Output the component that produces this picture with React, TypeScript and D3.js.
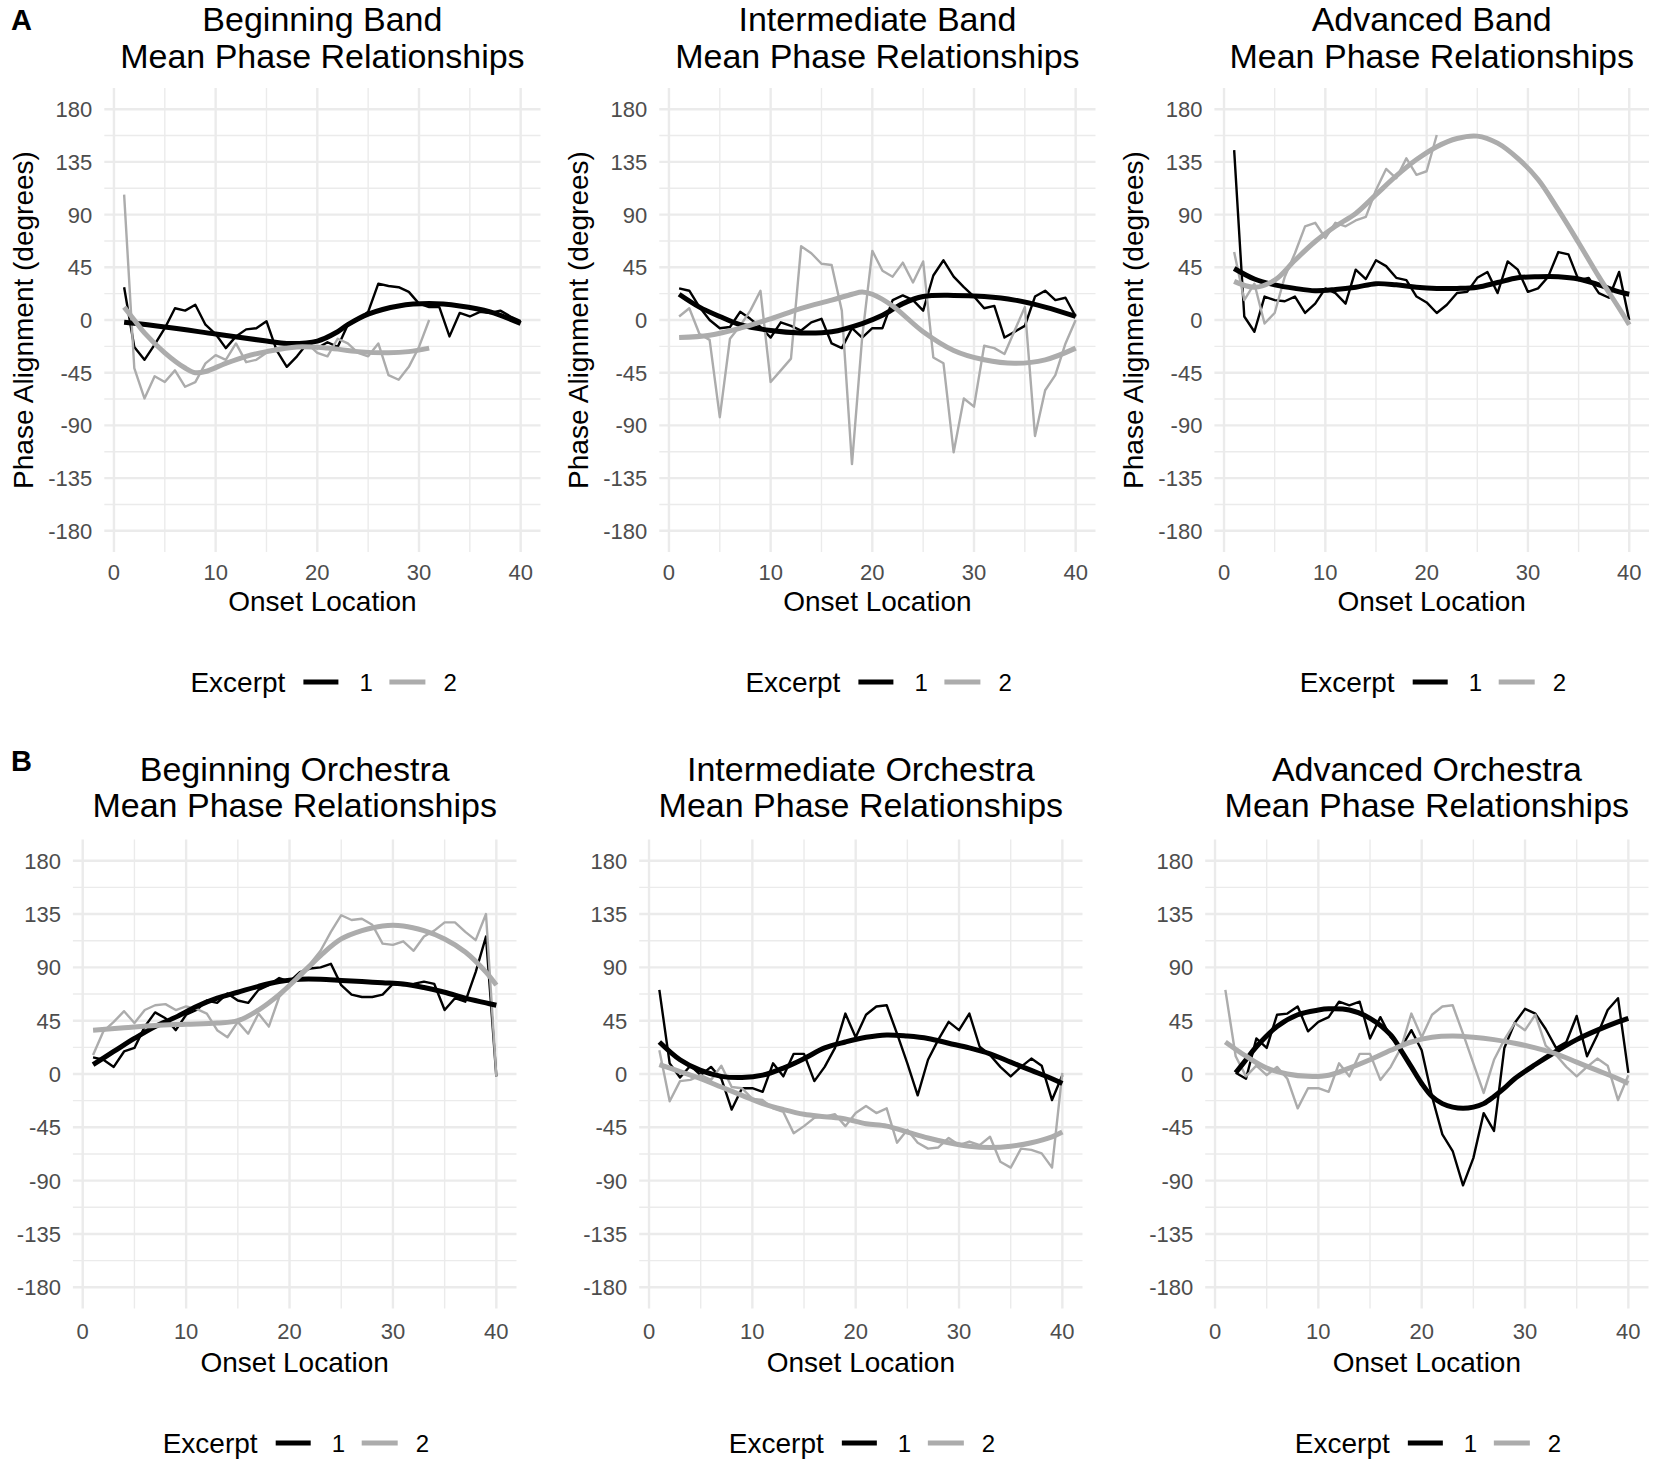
import React from 'react';
import * as d3 from 'd3';

// axis breaks
const onsetMajor = [0, 10, 20, 30, 40];
const onsetMinor = [5, 15, 25, 35];
const phaseMajor = [180, 135, 90, 45, 0, -45, -90, -135, -180];
const phaseMinor = [157.5, 112.5, 67.5, 22.5, -22.5, -67.5, -112.5, -157.5];

// raw mean phase per onset (onset = index + 1), fits are [onset, degrees]
const begBandEx1 = [28, -23, -34, -21, -7, 10, 8, 13, -4, -12, -24, -14, -8, -7, -1, -26, -40, -31, -20, -24, -19, -23, -4, 0, 7, 31, 29, 28, 24, 14, 11, 11, -14, 6, 3, 7, 6, 8, 3, -1];
const begBandEx2 = [107, -41, -67, -48, -53, -43, -57, -53, -37, -30, -34, -20, -36, -34, -28, -24, -23, -21, -20, -28, -31, -16, -20, -28, -31, -20, -47, -51, -40, -23, 0];
const begBandFit1: [number, number][] = [[1, -2], [5, -6], [10, -12], [15, -18], [17, -20], [20, -18], [22, -10], [23, -4], [25, 5], [28, 12], [31, 14], [34, 12], [37, 7], [40, -3]];
const begBandFit2: [number, number][] = [[1, 11], [2, 0], [3, -11], [5, -28], [7, -41], [8, -45], [9, -44], [11, -37], [13, -31], [15, -27], [18, -23], [21, -24], [24, -27], [27, -28], [29, -27], [31, -24]];

const intBandEx1 = [27, 25, 11, 0, -7, -6, 7, 1, -6, -15, -2, -5, -9, -2, 1, -20, -24, -7, -15, -7, -7, 17, 21, 17, 8, 38, 51, 37, 28, 20, 10, 12, -15, -10, -5, 20, 25, 17, 19, 3];
const intBandEx2 = [3, 10, -12, -17, -83, -16, -5, 8, 25, -53, -43, -33, 63, 57, 48, 47, 8, -123, -15, 59, 42, 37, 49, 32, 50, -32, -37, -113, -67, -74, -22, -24, -29, -9, 11, -99, -60, -47, -20, 0];
const intBandFit1: [number, number][] = [[1, 22], [3, 11], [5, 3], [7, -4], [10, -9], [13, -11], [16, -10], [19, -3], [21, 4], [23, 14], [25, 20], [28, 21], [31, 20], [34, 17], [37, 11], [40, 3]];
const intBandFit2: [number, number][] = [[1, -15], [4, -13], [7, -7], [10, 1], [13, 10], [16, 17], [18, 22], [19, 24], [20, 22], [22, 12], [25, -10], [28, -26], [31, -34], [34, -37], [37, -34], [40, -24]];

const advBandEx1 = [145, 3, -10, 20, 17, 16, 20, 6, 14, 27, 23, 14, 43, 35, 51, 46, 36, 34, 20, 15, 6, 13, 23, 24, 36, 41, 23, 50, 43, 24, 27, 37, 58, 56, 34, 36, 23, 19, 41, 0];
const advBandEx2 = [58, 17, 31, -3, 6, 37, 57, 80, 83, 70, 83, 80, 85, 88, 111, 129, 121, 138, 124, 127, 158];
const advBandFit1: [number, number][] = [[1, 44], [3, 35], [5, 30], [7, 27], [9, 25], [11, 26], [13, 28], [15, 31], [17, 30], [19, 28], [21, 27], [23, 27], [25, 28], [27, 32], [29, 36], [31, 37], [33, 37], [35, 35], [37, 30], [39, 24], [40, 22]];
const advBandFit2: [number, number][] = [[1, 33], [3, 28], [5, 34], [7, 51], [9, 67], [11, 80], [13, 91], [15, 107], [17, 123], [19, 137], [21, 148], [23, 155], [25, 157], [27, 151], [29, 138], [31, 120], [33, 94], [35, 66], [37, 37], [39, 10], [40, -4]];

const begOrchEx1 = [14, 12, 6, 19, 22, 40, 52, 47, 37, 50, 54, 62, 60, 68, 62, 60, 71, 75, 81, 78, 86, 89, 90, 93, 75, 67, 65, 65, 67, 76, 75, 76, 78, 76, 54, 64, 61, 86, 116, -2];
const begOrchEx2 = [16, 36, 44, 53, 43, 54, 58, 59, 54, 57, 55, 51, 37, 31, 44, 34, 51, 40, 65, 74, 85, 93, 104, 120, 134, 130, 131, 126, 110, 109, 112, 104, 116, 121, 128, 128, 120, 113, 135, -2];
const begOrchFit1: [number, number][] = [[1, 8], [3, 19], [5, 30], [7, 40], [9, 48], [11, 57], [13, 64], [15, 69], [17, 74], [19, 78], [21, 80], [23, 80], [25, 79], [27, 78], [29, 77], [31, 76], [33, 73], [35, 69], [37, 64], [39, 60], [40, 58]];
const begOrchFit2: [number, number][] = [[1, 37], [4, 39], [7, 41], [10, 42], [13, 43], [15, 45], [17, 54], [19, 67], [21, 83], [23, 100], [25, 114], [27, 121], [29, 125], [31, 125], [33, 121], [35, 114], [37, 103], [39, 86], [40, 75]];

const intOrchEx1 = [71, 9, -3, 7, -1, 6, -4, -30, -12, -12, -15, 9, -2, 17, 17, -6, 6, 22, 51, 31, 50, 57, 58, 34, 9, -18, 12, 29, 44, 37, 51, 23, 16, 6, -2, 6, 13, 7, -22, -1];
const intOrchEx2 = [20, -23, -6, -5, -1, -5, 7, -11, -12, -21, -22, -29, -32, -50, -44, -37, -36, -34, -44, -33, -27, -33, -29, -58, -47, -58, -63, -62, -54, -60, -57, -60, -53, -74, -79, -63, -64, -67, -79, 1];
const intOrchFit1: [number, number][] = [[1, 27], [3, 12], [5, 3], [7, -2], [9, -3], [11, -1], [13, 5], [15, 13], [17, 22], [19, 27], [21, 31], [23, 33], [25, 32], [27, 30], [29, 26], [31, 22], [33, 17], [35, 10], [37, 3], [39, -4], [40, -8]];
const intOrchFit2: [number, number][] = [[1, 8], [3, 2], [5, -4], [7, -11], [9, -18], [11, -25], [13, -30], [15, -34], [17, -36], [19, -38], [21, -42], [23, -44], [25, -49], [27, -54], [29, -58], [31, -61], [33, -62], [35, -61], [37, -58], [39, -53], [40, -49]];

const advOrchEx1 = [null, 1, -4, 30, 22, 50, 51, 57, 36, 44, 48, 61, 58, 61, 30, 48, 31, 22, 37, 20, -19, -51, -65, -94, -71, -33, -48, 22, 43, 55, 51, 38, 22, 27, 49, 15, 33, 54, 64, 1];
const advOrchEx2 = [71, 15, -2, 7, -1, 6, -4, -29, -12, -12, -15, 9, -2, 17, 17, -5, 6, 22, 51, 31, 50, 57, 58, 34, 9, -16, 12, 29, 43, 37, 50, 24, 16, 6, -2, 6, 13, 7, -22, -1];
const advOrchFit1: [number, number][] = [[2, 1], [3, 12], [4, 23], [6, 40], [8, 50], [10, 54], [11, 55], [13, 54], [15, 47], [17, 33], [18, 20], [19, 6], [20, -8], [21, -19], [22, -25], [23, -28], [24, -29], [25, -28], [26, -25], [27, -19], [28, -12], [29, -4], [31, 8], [33, 19], [35, 29], [37, 37], [39, 44], [40, 47]];
const advOrchFit2: [number, number][] = [[1, 27], [3, 15], [5, 5], [7, 0], [9, -2], [11, -1], [13, 5], [15, 12], [17, 20], [19, 27], [21, 31], [23, 32], [25, 31], [27, 29], [29, 26], [31, 22], [33, 17], [35, 10], [37, 3], [39, -4], [40, -8]];

const titles = [
  'Beginning Band', 'Intermediate Band', 'Advanced Band',
  'Beginning Orchestra', 'Intermediate Orchestra', 'Advanced Orchestra',
];

const panelData = [
  { ex1: begBandEx1, ex2: begBandEx2, fit1: begBandFit1, fit2: begBandFit2 },
  { ex1: intBandEx1, ex2: intBandEx2, fit1: intBandFit1, fit2: intBandFit2 },
  { ex1: advBandEx1, ex2: advBandEx2, fit1: advBandFit1, fit2: advBandFit2 },
  { ex1: begOrchEx1, ex2: begOrchEx2, fit1: begOrchFit1, fit2: begOrchFit2 },
  { ex1: intOrchEx1, ex2: intOrchEx2, fit1: intOrchFit1, fit2: intOrchFit2 },
  { ex1: advOrchEx1, ex2: advOrchEx2, fit1: advOrchFit1, fit2: advOrchFit2 },
];

// layout
const W = 1659;
const H = 1473;
const FONT = "'Liberation Sans', Arial, Helvetica, sans-serif";
const BLACK = '#000000';
const GREY = '#acacac';
const GRID = '#ebebeb';

const rows = [
  { top: 88.1, bottom: 551.9, title1: 31, title2: 68, tickY: 580, axisY: 611, legendY: 682, tag: 'A', tagY: 30, yTitle: true },
  { top: 839.4, bottom: 1308.6, title1: 781, title2: 817, tickY: 1339, axisY: 1372, legendY: 1443, tag: 'B', tagY: 771, yTitle: false },
];
const cols = [
  [[104.3, 540.5], [659.3, 1095.5], [1214.4, 1649]],
  [[72.9, 516.5], [639.2, 1082.5], [1205.2, 1648.5]],
];

const Panel: React.FC<{ idx: number }> = ({ idx }) => {
  const row = rows[Math.floor(idx / 3)];
  const [left, right] = cols[Math.floor(idx / 3)][idx % 3];
  const d = panelData[idx];
  const cx = (left + right) / 2;

  const x = d3.scaleLinear().domain([-0.95, 41.95]).range([left, right]);
  const y = d3.scaleLinear().domain([-198, 198]).range([row.bottom, row.top]);

  const raw = d3.line<number | null>()
    .defined(v => v != null)
    .x((_, i) => x(i + 1))
    .y(v => y(v as number));
  const fit = d3.line<[number, number]>()
    .x(p => x(p[0]))
    .y(p => y(p[1]))
    .curve(d3.curveCatmullRom.alpha(0.5));

  const lx = cx - 132;

  return (
    <g>
      {/* grid */}
      {phaseMinor.map(v => (
        <line key={'ym' + v} x1={left} x2={right} y1={y(v)} y2={y(v)} stroke={GRID} strokeWidth={1.4} />
      ))}
      {onsetMinor.map(v => (
        <line key={'xm' + v} x1={x(v)} x2={x(v)} y1={row.top} y2={row.bottom} stroke={GRID} strokeWidth={1.4} />
      ))}
      {phaseMajor.map(v => (
        <line key={'yM' + v} x1={left} x2={right} y1={y(v)} y2={y(v)} stroke={GRID} strokeWidth={2.4} />
      ))}
      {onsetMajor.map(v => (
        <line key={'xM' + v} x1={x(v)} x2={x(v)} y1={row.top} y2={row.bottom} stroke={GRID} strokeWidth={2.4} />
      ))}

      {/* data */}
      <path d={raw(d.ex1) || ''} fill="none" stroke={BLACK} strokeWidth={2.4} strokeLinejoin="round" />
      <path d={raw(d.ex2) || ''} fill="none" stroke={GREY} strokeWidth={2.4} strokeLinejoin="round" />
      <path d={fit(d.fit1) || ''} fill="none" stroke={BLACK} strokeWidth={5} strokeLinecap="butt" />
      <path d={fit(d.fit2) || ''} fill="none" stroke={GREY} strokeWidth={5} strokeLinecap="butt" />

      {/* tick labels */}
      {phaseMajor.map(v => (
        <text key={'yt' + v} x={left - 12} y={y(v) + 8} textAnchor="end" fontSize={22} fill="#4d4d4d">{v}</text>
      ))}
      {onsetMajor.map(v => (
        <text key={'xt' + v} x={x(v)} y={row.tickY} textAnchor="middle" fontSize={22} fill="#4d4d4d">{v}</text>
      ))}
      <text x={cx} y={row.axisY} textAnchor="middle" fontSize={28} fill="#000">Onset Location</text>

      {/* title */}
      <text x={cx} y={row.title1} textAnchor="middle" fontSize={34} fill="#000">{titles[idx]}</text>
      <text x={cx} y={row.title2} textAnchor="middle" fontSize={34} fill="#000">Mean Phase Relationships</text>

      {/* legend */}
      <text x={lx} y={row.legendY + 10} fontSize={28} fill="#000">Excerpt</text>
      <line x1={lx + 113} x2={lx + 148} y1={row.legendY} y2={row.legendY} stroke={BLACK} strokeWidth={5} />
      <text x={lx + 169} y={row.legendY + 9} fontSize={24} fill="#000">1</text>
      <line x1={lx + 199} x2={lx + 235} y1={row.legendY} y2={row.legendY} stroke={GREY} strokeWidth={5} />
      <text x={lx + 253} y={row.legendY + 9} fontSize={24} fill="#000">2</text>

      {row.yTitle && (
        <text transform={`translate(${left - 81},${y(0)}) rotate(-90)`} dy="0.35em" textAnchor="middle" fontSize={28} fill="#000">
          Phase Alignment (degrees)
        </text>
      )}
    </g>
  );
};

export default function App() {
  return (
    <svg width={W} height={H} viewBox={`0 0 ${W} ${H}`}
      style={{ position: 'absolute', left: 0, top: 0, background: '#fff', fontFamily: FONT }}>
      <rect width={W} height={H} fill="#fff" />
      {titles.map((_, i) => <Panel key={i} idx={i} />)}
      {rows.map(r => (
        <text key={r.tag} x={11} y={r.tagY} fontSize={29} fontWeight="bold" fill="#000">{r.tag}</text>
      ))}
    </svg>
  );
}
